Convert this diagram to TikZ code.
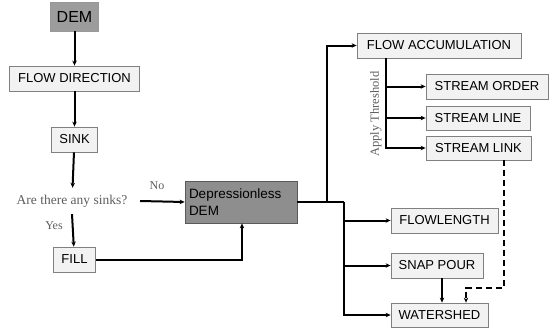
\documentclass[tikz,border=0pt]{standalone}
\usepackage{fontspec}
\setmainfont{Liberation Sans}
\newfontfamily\serifA{Liberation Serif}
\usetikzlibrary{arrows.meta,calc}
\definecolor{boxfill}{HTML}{F2F2F2}
\definecolor{boxline}{HTML}{808080}
\definecolor{darkfill}{HTML}{8E8E8E}
\definecolor{demfill}{HTML}{9C9C9C}
\definecolor{qgray}{HTML}{5E5E5E}
\tikzset{
  box/.style={draw=boxline, fill=boxfill, line width=0.8pt, inner sep=0pt, font=\fontsize{13}{15}\selectfont, text=black},
  darkbox/.style={draw=boxline!70!black, fill=darkfill, line width=0.8pt, inner sep=0pt, text=black},
  conn/.style={line width=2pt, -{Stealth[length=5pt,width=4.5pt]}},
  plain/.style={line width=2pt},
  lbl/.style={font=\serifA\fontsize{12}{14}\selectfont, text=qgray, inner sep=0pt}
}
\begin{document}
\begin{tikzpicture}[x=1pt,y=-1pt]
\useasboundingbox (0,0) rectangle (552,332);
% nodes
\node[darkbox, fill=demfill, draw=boxline!80, minimum width=48pt, minimum height=29pt, font=\fontsize{16}{18}\selectfont] (dem) at (74.5,16.5) {DEM};
\node[box, minimum width=130pt, minimum height=25pt] (fdir) at (74.5,78.5) {FLOW DIRECTION};
\node[box, minimum width=46pt, minimum height=25pt] (sink) at (74.5,139.5) {SINK};
\node[font=\serifA\fontsize{13.5}{15}\selectfont, text=qgray, inner sep=0pt, minimum height=26pt, minimum width=136pt] (q) at (72,201) {Are there any sinks?};
\node[box, minimum width=42pt, minimum height=25pt] (fill) at (74.5,259.5) {FILL};
\node[darkbox, minimum width=112pt, minimum height=42pt, text width=104pt, align=left, font=\fontsize{13.5}{17.5}\selectfont] (ddem) at (241,202) {Depressionless\\DEM};
\node[box, minimum width=164pt, minimum height=25pt] (facc) at (439,45.5) {FLOW ACCUMULATION};
\node[box, minimum width=122pt, minimum height=25pt] (sorder) at (487,86.5) {STREAM ORDER};
\node[box, minimum width=104pt, minimum height=24pt] (sline) at (478,118) {STREAM LINE};
\node[box, minimum width=105pt, minimum height=24pt] (slink) at (478.5,148) {STREAM LINK};
\node[box, minimum width=107pt, minimum height=25pt] (flen) at (444.5,220.5) {FLOWLENGTH};
\node[box, minimum width=92pt, minimum height=25pt] (snap) at (437,265.5) {SNAP POUR};
\node[box, minimum width=97pt, minimum height=24pt] (ws) at (439.5,315) {WATERSHED};
% labels
\node[lbl] (no) at (157,186) {No};
\node[lbl] (yes) at (54,226) {Yes};
\node[lbl, rotate=90, font=\serifA\fontsize{12.5}{14}\selectfont] (thr) at (376,114) {Apply Threshold};
% coordinates
\coordinate (j1) at (327,202);
\coordinate (j2) at (344,202);
\coordinate (ja) at (386,0);
\coordinate (sx) at (442,0);
\coordinate (dx) at (504,288);
\coordinate (dy) at (466,288);
% connectors
\draw[conn] (dem) -- (fdir);
\draw[conn] (fdir) -- (sink);
\draw[conn] (sink) -- (q);
\draw[conn] (q.south) -- (fill);
\draw[conn] (q.east) -- (ddem.west);
\draw[conn] (fill.east) -| ($(ddem.south)+(1,0)$);
\draw[plain] (ddem.east) -- (j2);
\draw[conn] (j1) |- (facc.west);
\draw[conn] (j2) |- (flen.west);
\draw[conn] (j2) |- (snap.west);
\draw[conn] (j2) |- (ws.west);
\draw[conn] (ja |- facc.south) |- (sorder.west);
\draw[conn] (ja |- facc.south) |- (sline.west);
\draw[conn] (ja |- facc.south) |- (slink.west);
\draw[conn] (sx |- snap.south) -- (sx |- ws.north);
\draw[conn, dash pattern=on 6pt off 4pt] (dx |- slink.south) -- (dx) -- (dy) -- (dy |- ws.north);
\end{tikzpicture}
\end{document}
